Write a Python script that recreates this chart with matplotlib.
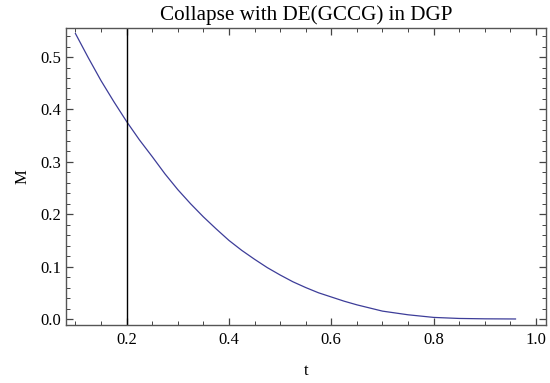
import matplotlib
matplotlib.use("Agg")
import matplotlib.pyplot as plt
from matplotlib.ticker import MultipleLocator, FormatStrFormatter

# Data
t_values = [0.100, 0.125, 0.150, 0.175, 0.200, 0.225, 0.250, 0.275, 0.300, 0.325,
            0.350, 0.375, 0.400, 0.425, 0.450, 0.475, 0.500, 0.525, 0.550, 0.575,
            0.600, 0.625, 0.650, 0.700, 0.750, 0.800, 0.850, 0.900, 0.960]
m_values = [0.545, 0.499, 0.455, 0.415, 0.377, 0.342, 0.310, 0.277, 0.247, 0.220,
            0.195, 0.172, 0.150, 0.131, 0.114, 0.098, 0.084, 0.071, 0.060, 0.050,
            0.042, 0.034, 0.027, 0.015, 0.008, 0.003, 0.001, 0.0003, 0.0]
marker_t = 0.2
x_ticks = [0.2, 0.4, 0.6, 0.8, 1.0]
y_ticks = [0.0, 0.1, 0.2, 0.3, 0.4, 0.5]

plt.rcParams['font.family'] = ['Liberation Serif', 'DejaVu Serif']

fig = plt.figure(figsize=(5.5, 3.83), dpi=100)
ax = fig.add_axes([65.7 / 550, 1 - 325 / 383, (546 - 65.7) / 550, (325 - 28) / 383])

ax.plot(t_values, m_values, color='#3d3d99', lw=0.9)
ax.axvline(marker_t, color='black', lw=1.0)

ax.set_xlim(0.081, 1.0196)
ax.set_ylim(-0.0115, 0.5555)

ax.set_xticks(x_ticks)
ax.set_yticks(y_ticks)
ax.xaxis.set_major_formatter(FormatStrFormatter('%.1f'))
ax.yaxis.set_major_formatter(FormatStrFormatter('%.1f'))
ax.xaxis.set_minor_locator(MultipleLocator(0.05))
ax.yaxis.set_minor_locator(MultipleLocator(0.02))

ax.tick_params(which='both', direction='in', top=True, right=True,
               labelsize=12, color='#444444', pad=3.5)
ax.tick_params(axis='x', which='major', pad=5)
ax.tick_params(which='major', length=5, width=0.9)
ax.tick_params(which='minor', length=3, width=0.7)

for s in ax.spines.values():
    s.set_color('#555555')
    s.set_linewidth(1.0)

ax.set_xlabel('t', fontsize=12, labelpad=11)
ax.set_ylabel('M', fontsize=12, labelpad=7)
ax.set_title('Collapse with DE(GCCG) in DGP', fontsize=15.2, pad=6)

fig.savefig('out.png', dpi=100)
